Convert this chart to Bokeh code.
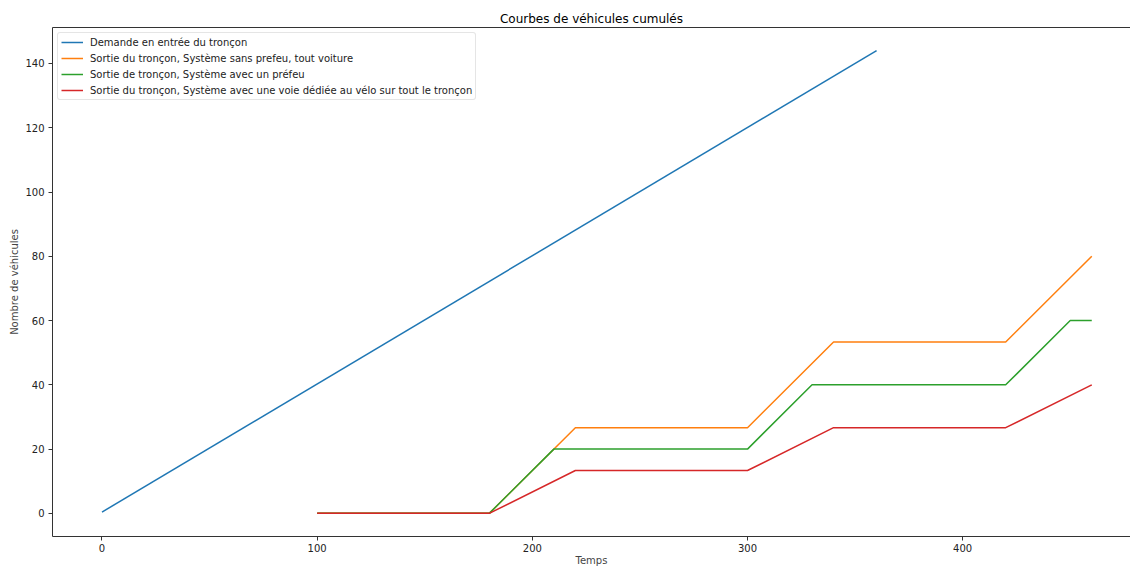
from bokeh.plotting import figure
from bokeh.models import Range1d, LinearAxis, Legend, LegendItem, FixedTicker
from bokeh.embed import file_html
from bokeh.resources import INLINE

# Data
t_demand = [0, 360]
n_demand = [0.4, 144]

t_sans = [100, 180, 220, 300, 340, 420, 460]
n_sans = [0, 0, 26.67, 26.67, 53.33, 53.33, 80]

t_prefeu = [100, 180, 210, 300, 330, 420, 450, 460]
n_prefeu = [0, 0, 20, 20, 40, 40, 60, 60]

t_velo = [100, 180, 220, 300, 340, 420, 460]
n_velo = [0, 0, 13.33, 13.33, 26.67, 26.67, 40]

x_ticks = [0, 100, 200, 300, 400]
y_ticks = [0, 20, 40, 60, 80, 100, 120, 140]

labels = [
    "Demande en entrée du tronçon",
    "Sortie du tronçon, Système sans prefeu, tout voiture",
    "Sortie de tronçon, Système avec un préfeu",
    "Sortie du tronçon, Système avec une voie dédiée au vélo sur tout le tronçon",
]
colors = ["#1f77b4", "#ff7f0e", "#2ca02c", "#d62728"]

FONT = "DejaVu Sans"

p = figure(frame_width=1078, frame_height=509, output_backend="svg", toolbar_location=None,
           x_range=Range1d(-23, 478), y_range=Range1d(-7.2, 151.2),
           title="Courbes de véhicules cumulés")
p.min_border_right = 0
p.min_border_left = 52
p.min_border_top = 27
p.min_border_bottom = 0
p.outline_line_color = None
p.background_fill_color = "white"
p.border_fill_color = "white"

p.title.align = "center"
p.title.text_font = FONT
p.title.text_font_size = "12px"
p.title.text_font_style = "normal"
p.title.text_color = "black"
p.title.standoff = 4

p.xgrid.visible = False
p.ygrid.visible = False

for ax, ticks in ((p.xaxis[0], x_ticks), (p.yaxis[0], y_ticks)):
    ax.ticker = FixedTicker(ticks=ticks)
    ax.major_tick_in = 0
    ax.major_tick_out = 4
    ax.minor_tick_line_color = None
    ax.major_label_text_font = FONT
    ax.major_label_text_font_size = "10px"
    ax.major_label_text_color = "#222222"
    ax.axis_label_text_font = FONT
    ax.axis_label_text_font_size = "10px"
    ax.axis_label_text_font_style = "normal"
    ax.axis_line_color = "#333333"
    ax.major_tick_line_color = "#333333"
    ax.major_label_standoff = 4

p.xaxis.major_label_standoff = 3
p.xaxis.axis_label = "Temps"
p.yaxis.axis_label = "Nombre de véhicules"
p.xaxis.axis_label_standoff = 0
p.yaxis.axis_label_standoff = 2

top = LinearAxis(major_tick_line_color=None, minor_tick_line_color=None,
                 major_label_text_font_size="0px", axis_line_color="#333333",
                 major_label_standoff=0)
top.ticker = FixedTicker(ticks=[])
p.add_layout(top, "above")

series = [(t_demand, n_demand), (t_sans, n_sans), (t_prefeu, n_prefeu), (t_velo, n_velo)]
items = []
for (xs, ys), c, lab in zip(series, colors, labels):
    r = p.line(xs, ys, line_color=c, line_width=1.5)
    items.append(LegendItem(label=lab, renderers=[r]))

legend = Legend(items=items, location="top_left")
legend.label_text_font = FONT
legend.label_text_font_size = "10px"
legend.label_text_color = "#222222"
legend.glyph_width = 22
legend.glyph_height = 12
legend.label_height = 12
legend.spacing = 4
legend.padding = 3
legend.margin = 5
legend.label_standoff = 7
legend.border_line_color = "#cccccc"
legend.border_radius = 3
legend.background_fill_alpha = 0.8
p.add_layout(legend)

open("out.html", "w").write(file_html(p, INLINE))
